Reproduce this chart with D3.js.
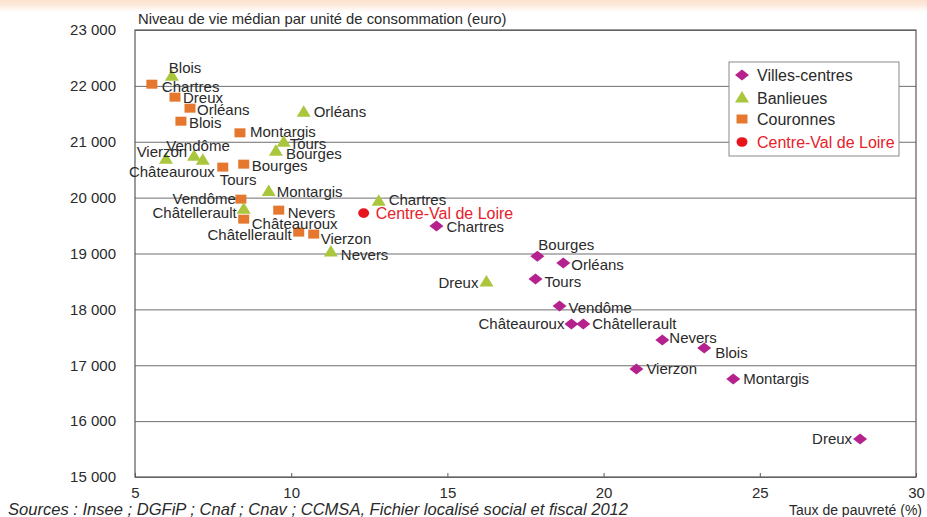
<!DOCTYPE html>
<html><head><meta charset="utf-8">
<script src="https://cdn.jsdelivr.net/npm/d3@7"></script>
<style>body{margin:0;background:#fff;}svg{display:block;}</style>
</head><body>
<svg id="chart" width="927" height="517"></svg>
<script>
// ---------- DATA ----------
const xTicks = [5, 10, 15, 20, 25, 30];
const yTicks = [15000, 16000, 17000, 18000, 19000, 20000, 21000, 22000, 23000];

const seriesNames = ["Villes-centres", "Banlieues", "Couronnes", "Centre-Val de Loire"];

const villesNames = ["Chartres","Bourges","Orléans","Tours","Vendôme","Châteauroux","Châtellerault","Nevers","Blois","Vierzon","Montargis","Dreux"];
const villesPoverty = [14.65, 17.88, 18.71, 17.82, 18.59, 18.97, 19.35, 21.88, 23.22, 21.05, 24.15, 28.21];
const villesIncome  = [19490, 18953, 18828, 18542, 18059, 17737, 17737, 17451, 17308, 16932, 16753, 15680];

const banlieuesNames = ["Blois","Orléans","Tours","Bourges","Vierzon","Vendôme","Châteauroux","Montargis","Chartres","Châtellerault","Nevers","Dreux"];
const banlieuesPoverty = [6.18, 10.40, 9.76, 9.51, 5.99, 6.89, 7.17, 9.28, 12.80, 8.48, 11.27, 16.25];
const banlieuesIncome  = [22173, 21530, 20993, 20832, 20689, 20742, 20671, 20110, 19937, 19794, 19025, 18488];

const couronnesNames = ["Chartres","Dreux","Orléans","Blois","Montargis","Bourges","Tours","Vendôme","Nevers","Châteauroux","Châtellerault","Vierzon"];
const couronnesPoverty = [5.54, 6.28, 6.76, 6.47, 8.36, 8.48, 7.81, 8.39, 9.60, 8.48, 10.24, 10.72];
const couronnesIncome  = [22030, 21798, 21601, 21368, 21160, 20599, 20546, 19973, 19776, 19615, 19383, 19347];

const regionNames = ["Centre-Val de Loire"];
const regionPoverty = [12.32];
const regionIncome = [19723];

const yTitle = "Niveau de vie médian par unité de consommation (euro)";
const xTitle = "Taux de pauvreté (%)";
const source = "Sources : Insee ; DGFiP ; Cnaf ; Cnav ; CCMSA, Fichier localisé social et fiscal 2012";

// ---------- STYLE / LAYOUT ----------
const colors = {"Villes-centres":"#b5218d","Banlieues":"#a9c63c","Couronnes":"#e5782e","Centre-Val de Loire":"#e8141c"};
const shapes = {
  "Villes-centres":"M0,-5.5L7,0L0,5.5L-7,0Z",
  "Banlieues":"M0,-7L7,4.5L-7,4.5Z",
  "Couronnes":"M-5.5,-4.5H5.5V4.5H-5.5Z",
  "Centre-Val de Loire":"M-5.5,0A5.5,4.8 0 1,0 5.5,0A5.5,4.8 0 1,0 -5.5,0Z"
};
// label placement: [dx, dy (vertical centre), anchor]
const placeV = {"Chartres":[10,0,"start"],"Bourges":[1,-12,"start"],"Orléans":[8,1,"start"],"Tours":[9,2,"start"],"Vendôme":[9,1,"start"],"Châteauroux":[-7,-1,"end"],"Châtellerault":[9,-1,"start"],"Nevers":[7,-3,"start"],"Blois":[11,4,"start"],"Vierzon":[10,-1,"start"],"Montargis":[10,-1,"start"],"Dreux":[-8,-1,"end"]};
const placeB = {"Blois":[-3,-9,"start"],"Orléans":[10,-1,"start"],"Tours":[6,1,"start"],"Bourges":[10,2,"start"],"Vierzon":[-4,-8,"middle"],"Vendôme":[4,-11,"middle"],"Châteauroux":[12,11,"end"],"Montargis":[8,0,"start"],"Chartres":[10,-2,"start"],"Châtellerault":[-7,3,"end"],"Nevers":[10,2,"start"],"Dreux":[-8,0,"end"]};
const placeC = {"Chartres":[10,2,"start"],"Dreux":[8,0,"start"],"Orléans":[7,1,"start"],"Blois":[8,1,"start"],"Montargis":[10,-1,"start"],"Bourges":[8,1,"start"],"Tours":[-3,12,"start"],"Vendôme":[-5,-1,"end"],"Nevers":[9,2,"start"],"Châteauroux":[8,4,"start"],"Châtellerault":[-7,2,"end"],"Vierzon":[7,4,"start"]};
const placeR = {"Centre-Val de Loire":[12,0,"start"]};

const FONT = "'Liberation Sans', Arial, Helvetica, sans-serif";
const mL = 135, mR = 916, mT = 30, mB = 477;

const svg = d3.select("#chart");

// top peach band
const defs = svg.append("defs");
const grad = defs.append("linearGradient").attr("id","band").attr("x1",0).attr("x2",0).attr("y1",0).attr("y2",1);
grad.append("stop").attr("offset","0%").attr("stop-color","#fce2cd");
grad.append("stop").attr("offset","40%").attr("stop-color","#fde9db");
grad.append("stop").attr("offset","100%").attr("stop-color","#ffffff");
svg.append("rect").attr("x",0).attr("y",0).attr("width",927).attr("height",12).attr("fill","url(#band)");

const x = d3.scaleLinear().domain([5, 30]).range([mL, mR]);
const y = d3.scaleLinear().domain([15000, 23000]).range([mB, mT]);
const fmt = v => d3.format(",")(v).replace(",", " ");

// gridlines
const grid = svg.append("g").attr("transform",`translate(${mL},0)`)
  .call(d3.axisLeft(y).tickValues(yTicks).tickSize(-(mR-mL)).tickFormat(""));
grid.select(".domain").remove();
grid.selectAll(".tick line").attr("stroke","#6e6e6e").attr("stroke-width",1);

// frame
svg.append("rect").attr("x",mL).attr("y",mT).attr("width",mR-mL).attr("height",mB-mT)
  .attr("fill","none").attr("stroke","#5a5a5a").attr("stroke-width",1.2);

// y axis labels
const yAxis = svg.append("g").attr("transform",`translate(${mL},0)`)
  .call(d3.axisLeft(y).tickValues(yTicks).tickSize(0).tickPadding(19).tickFormat(fmt));
yAxis.select(".domain").remove();
yAxis.selectAll("text").attr("font-family",FONT).attr("font-size",15).attr("fill","#2a2a2a");

// x axis
const xAxis = svg.append("g").attr("transform",`translate(0,${mB})`)
  .call(d3.axisBottom(x).tickValues(xTicks).tickSize(-4).tickPadding(10).tickFormat(d3.format("d")));
xAxis.select(".domain").remove();
xAxis.selectAll(".tick line").attr("stroke","#5a5a5a");
xAxis.selectAll("text").attr("font-family",FONT).attr("font-size",15).attr("fill","#2a2a2a");

// titles
svg.append("text").attr("x",138).attr("y",24).attr("font-family",FONT).attr("font-size",14.8)
  .attr("fill","#2a2a2a").text(yTitle);
svg.append("text").attr("x",922).attr("y",515).attr("text-anchor","end").attr("font-family",FONT)
  .attr("font-size",14).attr("fill","#2a2a2a").text(xTitle);
svg.append("text").attr("x",8).attr("y",515).attr("font-family","'Liberation Sans Narrow', 'Arial Narrow', "+FONT)
  .attr("font-style","italic").attr("font-size",16.5).attr("fill","#2a2a2a")
  .attr("textLength",620).attr("lengthAdjust","spacingAndGlyphs").text(source);

// series
function build(names, xs, ys){ return names.map((n,i)=>({name:n, x:xs[i], y:ys[i]})); }
const series = [
  {key:"Couronnes", data:build(couronnesNames, couronnesPoverty, couronnesIncome), place:placeC},
  {key:"Banlieues", data:build(banlieuesNames, banlieuesPoverty, banlieuesIncome), place:placeB},
  {key:"Villes-centres", data:build(villesNames, villesPoverty, villesIncome), place:placeV},
  {key:"Centre-Val de Loire", data:build(regionNames, regionPoverty, regionIncome), place:placeR}
];

series.forEach(s=>{
  const g = svg.append("g");
  g.selectAll("path").data(s.data).join("path")
    .attr("d", shapes[s.key]).attr("fill", colors[s.key])
    .attr("transform", d=>`translate(${x(d.x)},${y(d.y)})`);
  g.selectAll("text").data(s.data).join("text")
    .attr("x", d=>x(d.x)+s.place[d.name][0])
    .attr("y", d=>y(d.y)+s.place[d.name][1])
    .attr("text-anchor", d=>s.place[d.name][2])
    .attr("dominant-baseline","central")
    .attr("font-family",FONT)
    .attr("font-size", s.key==="Centre-Val de Loire" ? 16 : 15)
    .attr("fill", s.key==="Centre-Val de Loire" ? "#e8202a" : "#2a2a2a")
    .text(d=>d.name);
});

// legend
const lg = svg.append("g");
lg.append("rect").attr("x",729).attr("y",62).attr("width",170).attr("height",94)
  .attr("fill","#fff").attr("stroke","#8a8a8a").attr("stroke-width",1);
const legendY = [75, 98, 119, 142];
seriesNames.forEach((k,i)=>{
  lg.append("path").attr("d", shapes[k]).attr("fill", colors[k])
    .attr("transform",`translate(742,${legendY[i]})`);
  lg.append("text").attr("x",757).attr("y",legendY[i]).attr("dominant-baseline","central")
    .attr("font-family",FONT).attr("font-size",16)
    .attr("fill", k==="Centre-Val de Loire" ? "#e8202a" : "#2a2a2a").text(k);
});
</script>
</body></html>
